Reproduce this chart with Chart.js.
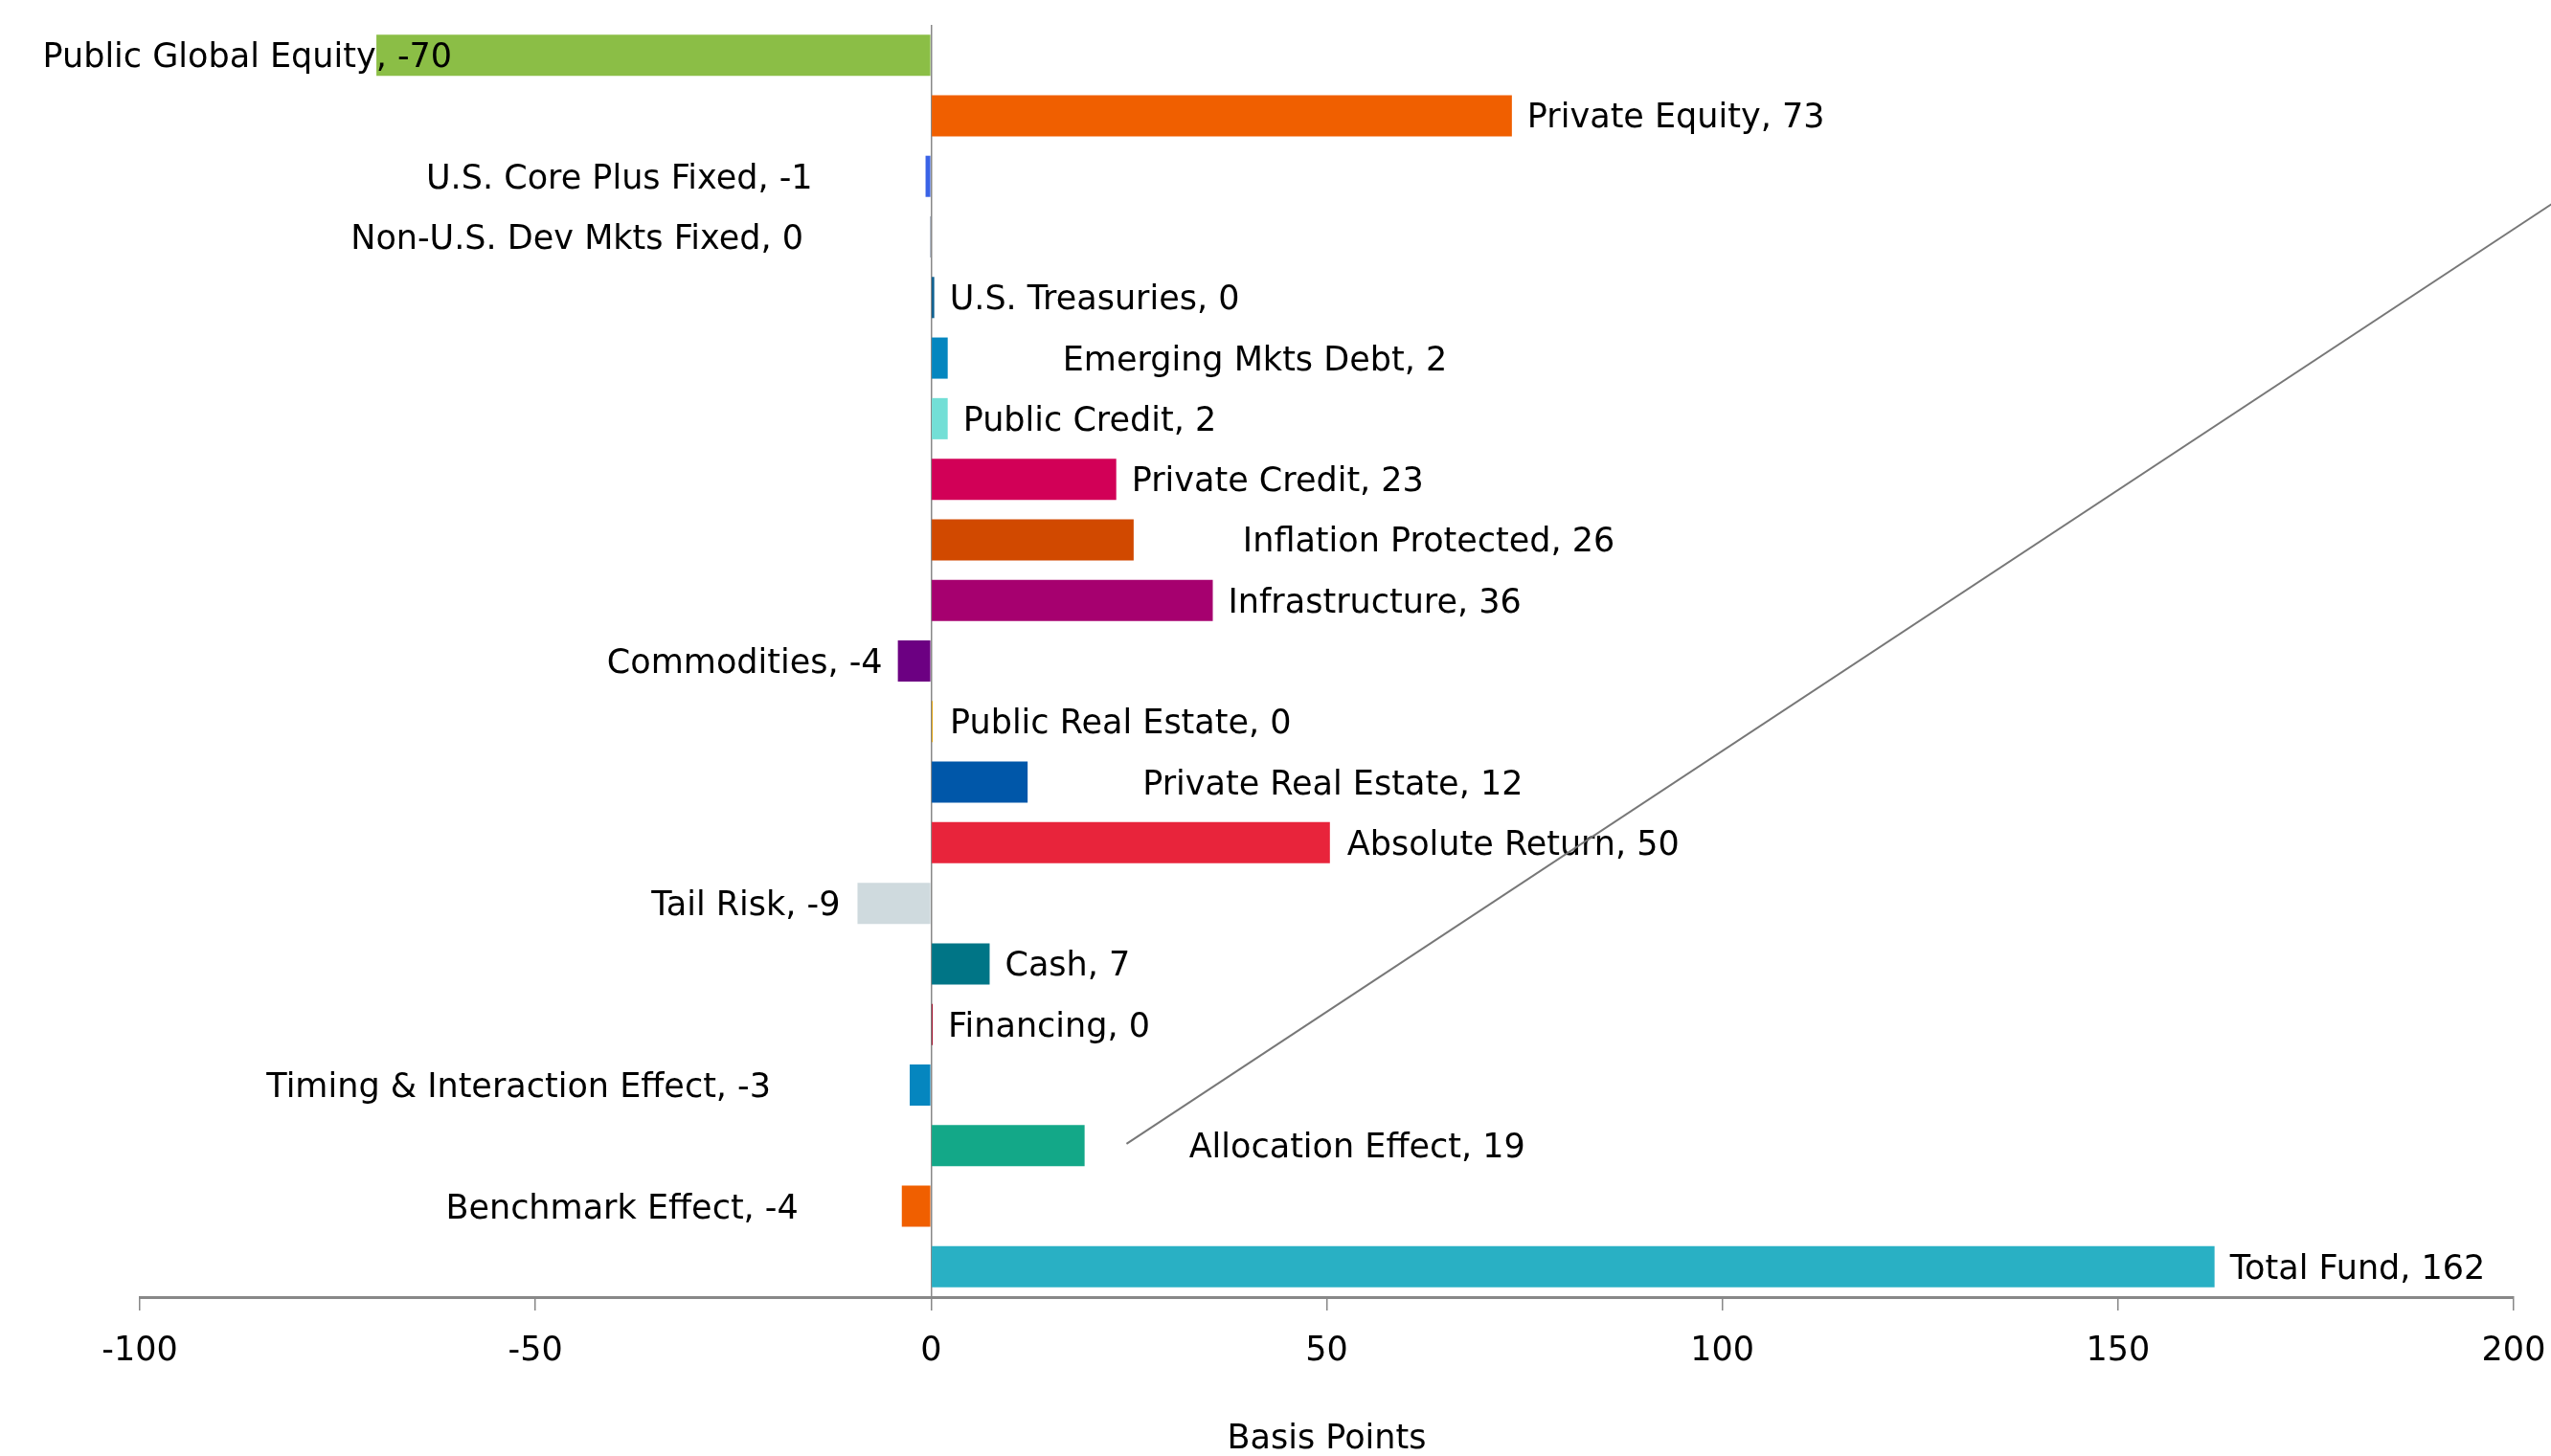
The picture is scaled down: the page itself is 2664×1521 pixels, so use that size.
<!DOCTYPE html>
<html>
<head>
<meta charset="utf-8">
<script src="https://cdn.jsdelivr.net/npm/chart.js@4.4.1/dist/chart.umd.min.js"></script>
<style>
  html, body { margin: 0; padding: 0; background: #fff; }
  #wrap { width: 2664px; height: 1521px; }
</style>
</head>
<body>
<div id="wrap"><canvas id="c" width="2664" height="1521"></canvas></div>
<script>
const categories = [
  "Public Global Equity", "Private Equity", "U.S. Core Plus Fixed", "Non-U.S. Dev Mkts Fixed",
  "U.S. Treasuries", "Emerging Mkts Debt", "Public Credit", "Private Credit",
  "Inflation Protected", "Infrastructure", "Commodities", "Public Real Estate",
  "Private Real Estate", "Absolute Return", "Tail Risk", "Cash", "Financing",
  "Timing & Interaction Effect", "Allocation Effect", "Benchmark Effect", "Total Fund"
];
const values = [
  -70.1, 73.4, -0.7, -0.05,
  0.4, 2.1, 2.1, 23.4,
  25.6, 35.6, -4.2, 0.2,
  12.2, 50.4, -9.3, 7.4, 0.2,
  -2.7, 19.4, -3.7, 162.2
];
const barColors = [
  "#8BBE46", "#F05F00", "#3A63E6", "#1F3A5F",
  "#0B5E8E", "#0586BF", "#73DFD6", "#D20057",
  "#D14900", "#A6006F", "#6C0082", "#E5A100",
  "#0057A9", "#E8243B", "#CFDADE", "#007586", "#A0001F",
  "#0586BF", "#13A888", "#F05F00", "#29B0C4"
];
// extra horizontal shift (px) of each value label beyond the default gap
const labelNudge = [
  95, 0, -102, -117,
  0, 104, 0, 0,
  98, 0, 0, 2,
  104, 2, -2, 0, 0,
  -129, 93, -92, 0
];
const xTicks = { min: -100, max: 200, step: 50 };
const axisTitle = "Basis Points";
// leader line drawn in data units: [value, category index]
const leaderLine = [[24.7, 17.97], [205, 2.44]];

const FONT = "'DejaVu Sans', sans-serif";
const FS = 35;

const labelPlugin = {
  id: 'barLabels',
  afterDatasetsDraw(chart) {
    const ctx = chart.ctx;
    const meta = chart.getDatasetMeta(0);
    ctx.save();
    ctx.font = FS + "px " + FONT;
    ctx.fillStyle = "#000";
    ctx.textBaseline = "alphabetic";
    meta.data.forEach((bar, i) => {
      const v = values[i];
      const txt = categories[i] + ", " + Math.round(v);
      const neg = v < 0;
      ctx.textAlign = neg ? "right" : "left";
      const x = bar.x + (neg ? -16 : 16) + labelNudge[i];
      ctx.fillText(txt, x, bar.y + 12.5);
    });
    ctx.restore();
  }
};

const leaderPlugin = {
  id: 'leader',
  afterDraw(chart) {
    const xs = chart.scales.x, ys = chart.scales.y;
    const ctx = chart.ctx;
    ctx.save();
    ctx.strokeStyle = "#777";
    ctx.lineWidth = 2;
    ctx.beginPath();
    ctx.moveTo(xs.getPixelForValue(leaderLine[0][0]), ys.getPixelForValue(leaderLine[0][1]));
    ctx.lineTo(xs.getPixelForValue(leaderLine[1][0]), ys.getPixelForValue(leaderLine[1][1]));
    ctx.stroke();
    ctx.restore();
  }
};

new Chart(document.getElementById('c'), {
  type: 'bar',
  data: {
    labels: categories,
    datasets: [{
      data: values,
      backgroundColor: barColors,
      borderWidth: 0,
      barPercentage: 0.68,
      categoryPercentage: 1.0
    }]
  },
  options: {
    indexAxis: 'y',
    responsive: false,
    animation: false,
    devicePixelRatio: 1,
    layout: { padding: { left: 146, right: 39, top: 26, bottom: 0 } },
    plugins: { legend: { display: false }, tooltip: { enabled: false } },
    scales: {
      x: {
        type: 'linear',
        min: xTicks.min, max: xTicks.max,
        ticks: { stepSize: xTicks.step, color: "#000", font: { family: FONT, size: FS }, padding: 22 },
        grid: {
          color: (c) => (c.tick && c.tick.value === 0) ? "#888" : "rgba(0,0,0,0)",
          lineWidth: 1.5,
          tickColor: "#888",
          tickLength: 14,
          tickWidth: 1.5
        },
        border: { display: true, color: "#888", width: 3 },
        title: { display: true, text: axisTitle, color: "#000", font: { family: FONT, size: FS, lineHeight: 1 }, padding: 0 },
        afterFit: (s) => { s.height = 166; s.paddingLeft = 0; s.paddingRight = 0; }
      },
      y: { display: false }
    }
  },
  plugins: [labelPlugin, leaderPlugin]
});
</script>
</body>
</html>
